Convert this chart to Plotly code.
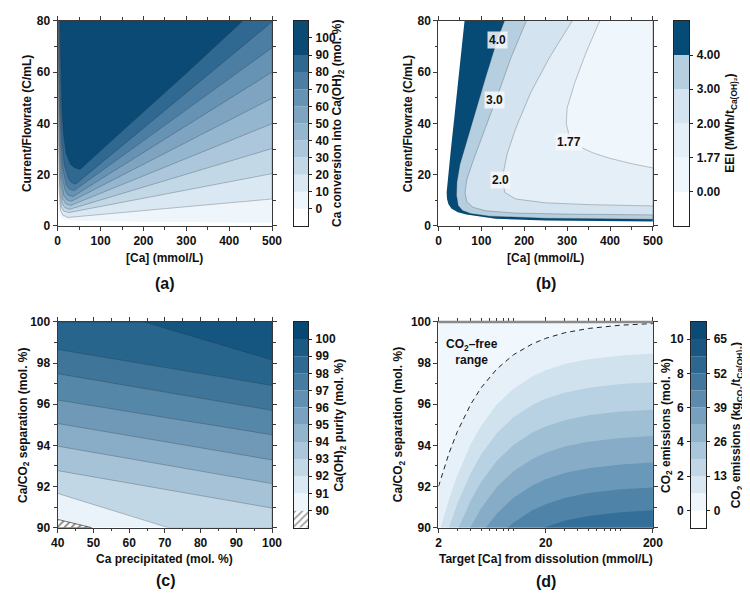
import plotly.graph_objects as go

FONT = "Liberation Sans, Arial, sans-serif"
W, H = 750, 594
AXC = "#3a3a3a"

# ---------------- Panel (a): Ca conversion ----------------
A_XR = [0, 500]
A_YR = [0, 80]
A_LEVELS = [0, 10, 20, 30, 40, 50, 60, 70, 80, 90]
A_ISO_X = [
    [0.3, 0.5, 1, 2, 4, 8, 15, 50, 200, 500],
    [0.7, 1.0, 1.4, 2, 3.3, 6.5, 12, 24, 60, 150, 300, 500],
    [1.0, 1.4, 2, 2.8, 4.3, 8, 14, 26, 60, 150, 300, 500],
    [1.3, 1.8, 2.5, 3.5, 5.3, 10, 17, 28, 60, 150, 300, 500],
    [1.6, 2.2, 3, 4.3, 6.5, 12, 19, 30, 60, 150, 300, 500],
    [1.9, 2.6, 3.7, 5.3, 8, 14, 21, 32, 60, 150, 300, 500],
    [2.3, 3.2, 4.5, 6.5, 10, 17, 24, 35, 60, 150, 300, 500],
    [2.8, 4, 5.5, 8, 12, 20, 27, 38, 60, 150, 300, 500],
    [3.5, 5, 7, 10, 15, 25, 32, 42, 60, 150, 300, 500],
    [5, 7, 10, 14, 20, 30, 40, 52, 70, 150, 300, 432],
]
A_ISO_Y = [
    [80, 40, 20, 10, 5, 3, 2.5, 2.0, 1.6, 1.3],
    [80, 60, 45, 32, 15, 6, 4.2, 3.3, 3.8, 5.2, 7.5, 10.5],
    [80, 60, 45, 32, 16, 7.5, 5.8, 5.2, 6.3, 9.2, 14.0, 20.4],
    [80, 60, 45, 32, 17, 8.8, 7.1, 6.5, 8.1, 12.6, 20.2, 30.2],
    [80, 60, 45, 32, 18, 10.5, 8.6, 8.0, 10.0, 16.1, 26.3, 39.9],
    [80, 60, 45, 32, 19, 12, 10.2, 9.6, 12.0, 19.7, 32.6, 49.8],
    [80, 60, 45, 32, 20, 14, 12.1, 11.4, 14.0, 23.4, 39.1, 60.0],
    [80, 60, 45, 32, 22, 16, 14.4, 13.7, 16.4, 27.2, 45.3, 69.5],
    [80, 60, 45, 33, 24, 18.5, 16.9, 16.3, 18.8, 31.2, 52.0, 79.6],
    [80, 60, 45, 35, 28, 24, 22.6, 22, 24.7, 36.9, 59.6, 80],
]
A_CB_EDGES = [-10, 0, 10, 20, 30, 40, 50, 60, 70, 80, 90, 110]
A_CB_TICKS = [0, 10, 20, 30, 40, 50, 60, 70, 80, 90, 100]

# ---------------- Panel (b): EEI ----------------
B_XR = [0, 500]
B_YR = [0, 80]
B_NAMES = ["edge", "4.0", "3.0", "2.0", "1.77"]
B_ISO_X = [
    [60.8, 50, 38, 29, 22, 19, 20, 23, 30, 45, 65, 100, 133, 250, 500],
    [154, 137, 110, 85, 65, 50, 43, 42, 46, 56, 75, 120, 250, 500],
    [205, 170, 140, 122, 100, 80, 66, 62, 66, 80, 110, 180, 300, 500],
    [312, 260, 215, 180, 160, 148, 155, 180, 250, 350, 500],
    [376, 345, 318, 300, 298, 305, 323, 360, 399, 450, 500],
]
B_ISO_Y = [
    [80, 62, 44, 30, 19, 13, 10.5, 8.5, 6.8, 5.3, 4.5, 3.5, 2.8, 2.1, 1.7],
    [80, 72.6, 58, 44, 33, 24, 17, 12, 8, 6, 4.8, 3.8, 3.0, 2.6],
    [80, 66, 52, 44, 34, 25, 18, 13, 9.5, 7.3, 5.9, 5.0, 4.6, 4.3],
    [80, 66, 52, 38, 28, 18, 13, 10.5, 9, 8.3, 7.8],
    [80, 68, 56, 46, 40, 35, 31.4, 28.5, 26.4, 24.3, 22.6],
]
B_LABELS = ["4.0", "3.0", "2.0", "1.77"]
B_LABEL_X = [137, 131, 144, 304]
B_LABEL_Y = [72.6, 49, 18.1, 32.7]
B_CB_TICKTEXT = ["0.00", "1.77", "2.00", "3.00", "4.00"]

# ---------------- Panel (c): purity ----------------
C_XR = [40, 100]
C_YR = [90, 100]
C_HATCH_X = [40, 49.5]
C_HATCH_Y = [90.4, 90]
C_LINE_X = [[40, 70.9], [40, 100], [40, 100], [40, 100], [40, 100], [40, 100], [40, 100], [64.1, 100]]
C_LINE_Y = [[91.66, 90], [92.77, 90.95], [93.96, 92.14], [95.06, 93.29], [96.2, 94.51],
            [97.48, 95.7], [98.66, 96.91], [100, 98.15]]
C_CB_EDGES = [89, 90, 91, 92, 93, 94, 95, 96, 97, 98, 99, 100, 101]
C_CB_TICKS = [90, 91, 92, 93, 94, 95, 96, 97, 98, 99, 100]

# ---------------- Panel (d): CO2 emissions ----------------
D_XR = [2, 200]
D_YR = [90, 100]
D_DASH_X = [2, 2.5, 3, 4, 5, 7, 10, 15, 20, 30, 50, 100, 200]
D_DASH_Y = [92.0, 93.6, 94.67, 96.0, 96.8, 97.71, 98.4, 98.93, 99.2, 99.47, 99.68, 99.84, 99.92]
D_ISO_X = [
    [2.1, 2.5, 3, 4, 5, 7, 10, 15, 20, 30, 50, 100, 200],
    [2.51, 3, 4, 5, 7, 10, 15, 20, 30, 50, 100, 200],
    [3.09, 4, 5, 7, 10, 15, 20, 30, 50, 100, 200],
    [3.96, 5, 7, 10, 15, 20, 30, 50, 100, 200],
    [5.54, 7, 10, 15, 20, 30, 50, 100, 200],
    [8.82, 10, 15, 20, 30, 50, 100, 200],
    [19.35, 20, 30, 50, 100, 200],
]
D_ISO_Y = [
    [90, 91.35, 92.55, 94.05, 94.95, 95.98, 96.75, 97.35, 97.65, 97.95, 98.19, 98.37, 98.46],
    [90, 91.16, 92.66, 93.56, 94.59, 95.36, 95.96, 96.26, 96.56, 96.8, 96.98, 97.07],
    [90, 91.32, 92.22, 93.25, 94.02, 94.62, 94.92, 95.22, 95.46, 95.64, 95.73],
    [90, 90.94, 91.97, 92.74, 93.34, 93.64, 93.94, 94.18, 94.36, 94.45],
    [90, 90.68, 91.45, 92.05, 92.35, 92.65, 92.89, 93.07, 93.16],
    [90, 90.24, 90.84, 91.14, 91.44, 91.68, 91.86, 91.95],
    [90, 90.03, 90.33, 90.57, 90.75, 90.84],
]
D_CB_EDGES = [-1, 0, 1, 2, 3, 4, 5, 6, 7, 8, 9, 10, 11]
D_CB_TICKS_MOL = [0, 2, 4, 6, 8, 10]
D_CB_TICKS_KG = [0, 13, 26, 39, 52, 65]

# ---------------- colours ----------------
PAL_A = ["#eef6fc", "#d9e8f3", "#c3d8e7", "#acc7db", "#95b6cf", "#7ea4c2", "#6692b4",
         "#4c7ea4", "#2f6891", "#0b4a74"]
B_COLORS = ["#064a76", "#b5cfe0", "#d3e4f0", "#e4eff8", "#eff6fc"]
C_COLORS = ["#eaf3fa", "#c2d7e6", "#a6c2d7", "#8aadc7", "#6f99b7", "#5587a8", "#3e7599",
            "#28658d", "#155681", "#074873"]
C_CB_COLORS = ["#eef6fc", "#d9e8f3", "#c3d8e7", "#acc7db", "#93b4cd", "#7aa1bf", "#6190b2",
               "#477ca2", "#2f6a93", "#1a5a85", "#074873"]
D_COLORS = ["#e6f0f8", "#d0e2ee", "#b8d1e3", "#9fbfd5", "#86acc7", "#6a98b8", "#4f83a8", "#336f98"]
D_CB_COLORS = ["#eef6fc", "#d8e7f2", "#c1d7e7", "#a9c6da", "#90b3cc", "#779fbe", "#5d8bae",
               "#44779e", "#2d668f", "#1a5681", "#0b4a74"]

FS = 12
TXT_C = "#111111"
TF = dict(family=FONT, size=FS, color=TXT_C, weight="bold")
LINE_C = "rgba(40,40,40,0.45)"


def px2x(p):
    return p / W


def px2y(p):
    return 1 - p / H


fig = go.Figure()


def poly(xs, ys, color, xa, ya, line=True):
    fig.add_trace(go.Scatter(
        x=xs, y=ys, mode="lines", fill="toself", fillcolor=color,
        line=dict(color=LINE_C if line else color, width=0.6 if line else 0),
        xaxis=xa, yaxis=ya, hoverinfo="skip", showlegend=False))


# (a) polygons: region >= level
for i, lv in enumerate(A_LEVELS):
    xs = list(A_ISO_X[i])
    ys = list(A_ISO_Y[i])
    if ys[-1] < A_YR[1]:
        xs.append(A_XR[1]); ys.append(A_YR[1])
    poly(xs, ys, PAL_A[i], "x", "y", line=(lv > 0))

# (b) polygons: nested regions
for i, nm in enumerate(B_NAMES):
    xs = list(B_ISO_X[i]) + [B_XR[1]]
    ys = list(B_ISO_Y[i]) + [B_YR[1]]
    poly(xs, ys, B_COLORS[i], "x2", "y2", line=(i > 0))

for t, lx, ly in zip(B_LABELS, B_LABEL_X, B_LABEL_Y):
    fig.add_annotation(x=lx, y=ly, xref="x2", yref="y2", text=t, showarrow=False,
                       font=TF, bgcolor="rgba(246,248,250,0.85)", borderpad=1)

# (c) polygons
poly([C_XR[0], C_XR[1], C_XR[1], C_XR[0]], [C_YR[0], C_YR[0], C_YR[1], C_YR[1]], C_COLORS[0], "x3", "y3",
     line=False)
for i in range(len(C_LINE_X)):
    xs = list(C_LINE_X[i]); ys = list(C_LINE_Y[i])
    if ys[-1] <= C_YR[0]:
        xs.append(C_XR[1]); ys.append(C_YR[0])
    xs += [C_XR[1], C_XR[0]]; ys += [C_YR[1], C_YR[1]]
    poly(xs, ys, C_COLORS[i + 1], "x3", "y3")
fig.add_trace(go.Scatter(
    x=C_HATCH_X + [C_XR[0]], y=C_HATCH_Y + [C_YR[0]], mode="lines", fill="toself",
    fillcolor="white", fillpattern=dict(shape="/", fgcolor="#111", size=5, solidity=0.35),
    line=dict(color="#222", width=0.6), xaxis="x3", yaxis="y3", hoverinfo="skip", showlegend=False))

# (d) polygons
fig.add_shape(type="rect", xref="x4 domain", yref="y4 domain", x0=0, x1=1, y0=0, y1=1,
              fillcolor="#f1f8fd", line_width=0, layer="below")
dx = list(D_DASH_X) + [D_XR[1], D_XR[0]]
dy = list(D_DASH_Y) + [D_YR[0], D_YR[0]]
poly(dx, dy, D_COLORS[0], "x4", "y4", line=False)
for i in range(len(D_ISO_X)):
    xs = list(D_ISO_X[i]) + [D_XR[1]]
    ys = list(D_ISO_Y[i]) + [D_YR[0]]
    poly(xs, ys, D_COLORS[i + 1], "x4", "y4", line=False)
fig.add_trace(go.Scatter(x=D_DASH_X, y=D_DASH_Y, mode="lines",
                         line=dict(color="#222", width=1, dash="5px,4px"),
                         xaxis="x4", yaxis="y4", hoverinfo="skip", showlegend=False))


# ---------------- colorbars as bar charts ----------------
def cbar(edges, colors, xa, ya, patterns=None):
    bases = edges[:-1]
    hts = [edges[i + 1] - edges[i] for i in range(len(edges) - 1)]
    fig.add_trace(go.Bar(
        x=[0] * len(hts), y=hts, base=bases, width=1,
        marker=dict(color=colors, line=dict(width=0),
                    pattern=dict(shape=patterns or [""] * len(hts), fgcolor="#111", size=5, solidity=0.35)),
        xaxis=xa, yaxis=ya, hoverinfo="skip", showlegend=False))


cbar(A_CB_EDGES, ["white"] + PAL_A, "x5", "y5")
cbar([0, 1, 2, 3, 4, 5, 6], ["white"] + B_COLORS[::-1], "x6", "y6")
cbar(C_CB_EDGES, ["white"] + C_CB_COLORS, "x7", "y7", patterns=["/"] + [""] * 11)
cbar(D_CB_EDGES, ["white"] + D_CB_COLORS, "x8", "y8")
# invisible trace so that the right-hand kg axis of colorbar (d) is drawn
fig.add_trace(go.Scatter(x=[0], y=[0], mode="markers", marker=dict(opacity=0), xaxis="x8", yaxis="y9",
                         hoverinfo="skip", showlegend=False))

# ---------------- layout ----------------
PA_X = [px2x(43.7), px2x(263)]
PB_X = [px2x(433.3), px2x(652.7)]
TOP_Y = [px2y(216), px2y(6)]
BOT_Y = [px2y(525), px2y(314.3)]


def main_ax(domain, rng, dtick, mdtick, anchor, tick0=0, **kw):
    d = dict(domain=domain, range=rng, dtick=dtick, tick0=tick0, showline=True, linecolor=AXC,
             linewidth=1.2, mirror="ticks", ticks="outside", ticklen=4, tickwidth=1.1, tickcolor=AXC,
             minor=dict(ticks="outside", ticklen=2.5, dtick=mdtick, tick0=tick0, tickcolor=AXC, tickwidth=1),
             showgrid=False, zeroline=False, tickfont=TF, anchor=anchor, layer="above traces")
    d.update(kw)
    return d


def cb_x(domain, anchor):
    return dict(domain=domain, range=[-0.5, 0.5], showticklabels=False, ticks="", showline=True,
                linecolor="#222", linewidth=1, mirror=True, showgrid=False, zeroline=False, anchor=anchor,
                fixedrange=True)


def cb_y(domain, rng, anchor, side="right", **kw):
    d = dict(domain=domain, range=rng, side=side, ticks="outside", ticklen=3, tickwidth=1, tickcolor="#222",
             showline=True, linecolor="#222", linewidth=1, mirror=True, showgrid=False, zeroline=False,
             tickfont=TF, anchor=anchor, ticklabelstandoff=1)
    d.update(kw)
    return d


layout = dict(
    width=W, height=H, margin=dict(l=0, r=0, t=0, b=0), paper_bgcolor="white", plot_bgcolor="white",
    barmode="overlay", showlegend=False, font=dict(family=FONT, size=FS, color=TXT_C),
    xaxis=main_ax(PA_X, A_XR, 100, 50, "y"),
    yaxis=main_ax(TOP_Y, A_YR, 20, 10, "x"),
    xaxis2=main_ax(PB_X, B_XR, 100, 50, "y2"),
    yaxis2=main_ax(TOP_Y, B_YR, 20, 10, "x2"),
    xaxis3=main_ax(PA_X, C_XR, 10, 5, "y3", tick0=40),
    yaxis3=main_ax(BOT_Y, C_YR, 2, 1, "x3", tick0=90),
    xaxis4=dict(main_ax(PB_X, [0.30103, 2.30103], None, None, "y4"), type="log", tickvals=[2, 20, 200],
                minor=dict(ticks="outside", ticklen=2.5, dtick="D1", tickcolor=AXC, tickwidth=1)),
    yaxis4=main_ax(BOT_Y, D_YR, 2, 1, "x4", tick0=90),
    xaxis5=cb_x([px2x(285), px2x(300)], "y5"),
    yaxis5=cb_y(TOP_Y, [-10, 110], "x5", tickvals=A_CB_TICKS),
    xaxis6=cb_x([px2x(674.3), px2x(690)], "y6"),
    yaxis6=cb_y(TOP_Y, [0, 6], "x6", tickvals=[1, 2, 3, 4, 5], ticktext=B_CB_TICKTEXT),
    xaxis7=cb_x([px2x(285), px2x(300)], "y7"),
    yaxis7=cb_y(BOT_Y, [89, 101], "x7", tickvals=C_CB_TICKS),
    xaxis8=cb_x([px2x(691.7), px2x(707.3)], "y8"),
    yaxis8=cb_y(BOT_Y, [-1, 11], "x8", side="left", tickvals=D_CB_TICKS_MOL),
    yaxis9=cb_y(BOT_Y, [-6.5, 71.5], "x8", side="right", overlaying="y8", tickvals=D_CB_TICKS_KG,
                showline=False),
)
fig.update_layout(**layout)

# (d) thick top border
fig.add_shape(type="line", xref="x4 domain", yref="y4 domain", x0=0, x1=1, y0=1, y1=1,
              line=dict(color="#8a8a8a", width=2.5))


def txt(x, y, s, size=FS, angle=0, xanchor="center", yanchor="middle"):
    fig.add_annotation(x=px2x(x), y=px2y(y), xref="paper", yref="paper", text=s, showarrow=False,
                       textangle=angle, xanchor=xanchor, yanchor=yanchor,
                       font=dict(family=FONT, size=size, color=TXT_C, weight="bold"))


# axis titles
txt(153, 249, "[Ca] (mmol/L)")
txt(543, 249, "[Ca] (mmol/L)")
txt(13, 111, "Current/Flowrate (C/mL)", angle=-90)
txt(403, 111, "Current/Flowrate (C/mL)", angle=-90)
txt(153, 557, "Ca precipitated (mol. %)")
txt(543, 557, "Target [Ca] from dissolution (mmol/L)")
txt(9, 420, "Ca/CO<sub>2</sub> separation (mol. %)", angle=-90)
txt(393, 420, "Ca/CO<sub>2</sub> separation (mol. %)", angle=-90)
# colorbar titles
txt(331, 111, "Ca conversion into Ca(OH)<sub>2</sub> (mol. %)", angle=-90)
txt(733, 111, "EEI (MWh/t<sub>Ca(OH)₂</sub>)", angle=-90)
txt(333, 420, "Ca(OH)<sub>2</sub> purity (mol. %)", angle=-90)
txt(667, 420, "CO<sub>2</sub> emissions (mol. %)", angle=-90)
txt(739, 420, "CO<sub>2</sub> emissions (kg<sub>CO₂</sub>/t<sub>Ca(OH)₂</sub>)", angle=-90)
# panel labels
txt(153, 275, "(a)", size=16)
txt(543, 275, "(b)", size=16)
txt(154, 579, "(c)", size=16)
txt(543, 580, "(d)", size=16)
# annotation in (d)
txt(468, 345, "CO<sub>2</sub>–free<br>range")

fig.write_html("out.html")
